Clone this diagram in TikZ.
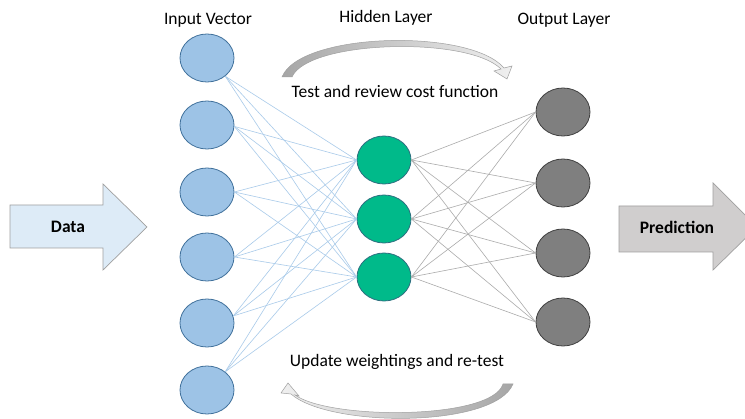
\documentclass[tikz,border=0pt]{standalone}
\usepackage{fontspec}
\setmainfont{Carlito}
\usetikzlibrary{shapes.geometric}
\definecolor{inFill}{HTML}{9DC3E6}
\definecolor{inDraw}{HTML}{41719C}
\definecolor{hidFill}{HTML}{00BA8A}
\definecolor{hidDraw}{HTML}{2E6F80}
\definecolor{outFill}{HTML}{7F7F7F}
\definecolor{outDraw}{HTML}{404040}
\definecolor{inLine}{HTML}{A9CBEA}
\definecolor{outLine}{HTML}{ACACAC}
\definecolor{dataFill}{HTML}{DDEBF7}
\definecolor{predFill}{HTML}{D0CECE}
\definecolor{arrDraw}{HTML}{A0A0A0}
\tikzset{
  neuron/.style={ellipse, minimum width=54pt, minimum height=48pt, inner sep=0pt, line width=0.8pt},
  innode/.style={neuron, fill=inFill, draw=inDraw},
  hidnode/.style={neuron, fill=hidFill, draw=hidDraw},
  outnode/.style={neuron, fill=outFill, draw=outDraw},
  inconn/.style={draw=inLine, line width=0.6pt},
  outconn/.style={draw=outLine, line width=0.6pt},
  lbl/.style={font=\fontsize{17.5}{20}\selectfont, text=black, inner sep=0pt},
  blbl/.style={font=\fontsize{17.5}{20}\selectfont\bfseries, text=black, inner sep=0pt},
  bigarrow/.style={draw=arrDraw, line width=0.7pt, line join=miter},
  loop/.style={draw=arrDraw, line width=0.5pt, line join=miter}
}
\begin{document}
\begin{tikzpicture}[x=1pt,y=-1pt]
\useasboundingbox (0,0) rectangle (745,419);
\clip (0,0) rectangle (745,419);
\fill[white] (0,0) rectangle (745,419);

% big arrows
\draw[bigarrow, fill=dataFill] (10,205) -- (103,205) -- (103,184) -- (147,227) -- (103,270) -- (103,248) -- (10,248) -- cycle;
\node[blbl] (data) at (68,227) {Data};
\draw[bigarrow, fill=predFill] (619,206) -- (713,206) -- (713,183) -- (757,227) -- (713,270) -- (713,252) -- (619,252) -- cycle;
\node[blbl] (pred) at (677,227) {Prediction};

% curved loop arrows
\shade[left color=gray!70, right color=gray!12] (282,77) .. controls (300,32) and (470,28) .. (504,68) -- (512,66) -- (507,79) -- (494,71) -- (501,69) .. controls (468,36) and (308,40) .. (292,77) -- cycle;
\draw[loop] (282,77) .. controls (300,32) and (470,28) .. (504,68) -- (512,66) -- (507,79) -- (494,71) -- (501,69) .. controls (468,36) and (308,40) .. (292,77) -- cycle;
\shade[left color=gray!12, right color=gray!70] (513,384) .. controls (495,428) and (330,428) .. (291,394) -- (281,393) -- (288,383) -- (299,396) -- (295,395) .. controls (330,420) and (492,420) .. (503,384) -- cycle;
\draw[loop] (513,384) .. controls (495,428) and (330,428) .. (291,394) -- (281,393) -- (288,383) -- (299,396) -- (295,395) .. controls (330,420) and (492,420) .. (503,384) -- cycle;

% labels
\node[lbl] (tin) at (208,20) {Input Vector};
\node[lbl] (thid) at (386,18) {Hidden Layer};
\node[lbl] (tout) at (564,20) {Output Layer};
\node[lbl] (ttest) at (395,91) {Test and review cost function};
\node[lbl] (tupd) at (397,362) {Update weightings and re-test};

% nodes
\node[innode] (i1) at (207,58) {};
\node[innode] (i2) at (207,125) {};
\node[innode] (i3) at (207,192) {};
\node[innode] (i4) at (207,257) {};
\node[innode] (i5) at (207,323) {};
\node[innode] (i6) at (207,390) {};
\node[hidnode] (h1) at (384,160) {};
\node[hidnode] (h2) at (384,219) {};
\node[hidnode] (h3) at (384,277) {};
\node[outnode] (o1) at (563,112) {};
\node[outnode] (o2) at (563,183) {};
\node[outnode] (o3) at (563,253) {};
\node[outnode] (o4) at (563,322) {};

% input anchors
\coordinate (a1) at (i1.-45);
\coordinate (a2) at (i2.-3);
\coordinate (a3) at (i3.0);
\coordinate (a4) at (i4.0);
\coordinate (a5) at (i5.15);
\coordinate (a6) at (i6.45);

\foreach \i in {1,...,6}{
  \foreach \h in {1,2,3}{
    \draw[inconn] (a\i) -- (h\h.west);
  }
}
\foreach \h in {1,2,3}{
  \foreach \o in {1,2,3,4}{
    \draw[outconn] (h\h.east) -- (o\o.west);
  }
}
\end{tikzpicture}
\end{document}
